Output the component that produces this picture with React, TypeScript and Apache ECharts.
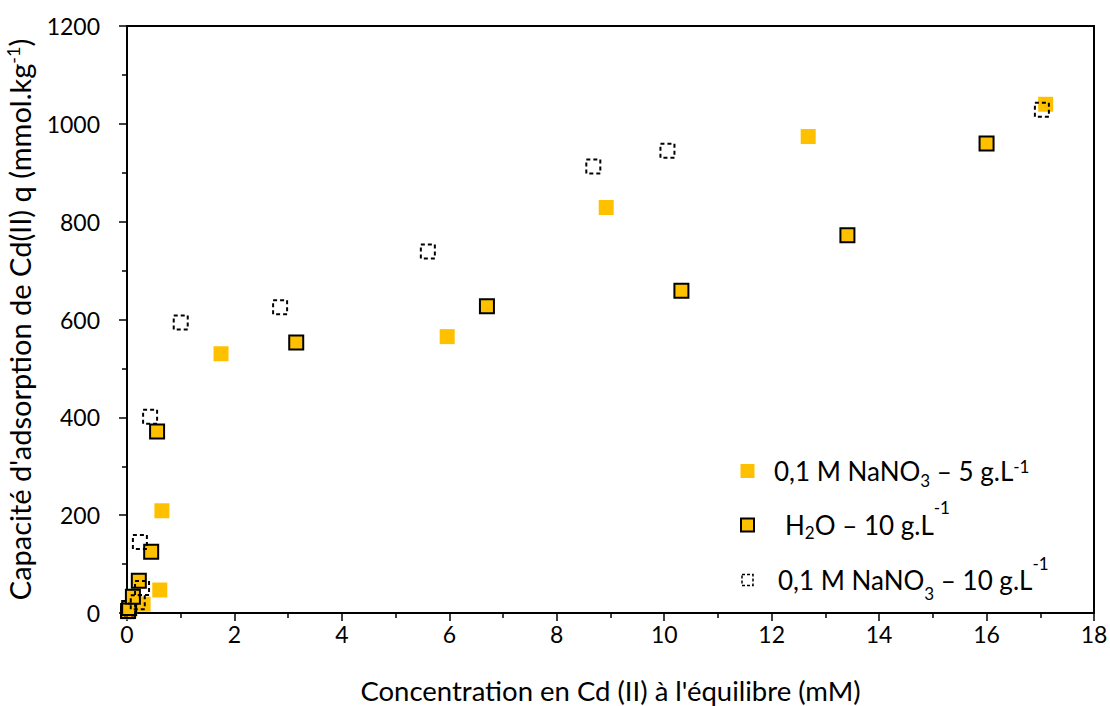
import React, { useEffect, useRef } from "react";
import * as echarts from "echarts";

const seriesNames = [
  "0,1 M NaNO3 – 5 g.L-1",
  "H2O – 10 g.L-1",
  "0,1 M NaNO3 – 10 g.L-1",
];

const nitrate5X = [0.01, 0.05, 0.3, 0.61, 0.65, 1.75, 5.96, 8.92, 12.68, 17.1];
const nitrate5Y = [2, 8, 18, 47, 209, 530, 565, 829, 974, 1040];

const waterX = [0.02, 0.04, 0.11, 0.22, 0.45, 0.56, 3.15, 6.7, 10.32, 13.41, 16.0];
const waterY = [4, 10, 33, 66, 125, 371, 553, 627, 659, 772, 960];

const nitrate10X = [0.02, 0.2, 0.28, 0.24, 0.43, 1.0, 2.85, 5.6, 8.68, 10.06, 17.03];
const nitrate10Y = [5, 22, 51, 145, 401, 594, 625, 739, 913, 945, 1029];

const xTicks = { min: 0, max: 18, interval: 2 };
const yTicks = { min: 0, max: 1200, interval: 200 };

const zip = (xs: number[], ys: number[]) => xs.map((x, i) => [x, ys[i]]);

const FONT = "Lato";
const YELLOW = "#FFC000";

const small = (raise: number) => ({
  fontSize: 17,
  fill: "#000",
  color: "#000",
  fontFamily: FONT,
  verticalAlign: "middle",
  lineHeight: 10,
  padding: raise >= 0 ? [0, 0, raise * 2, 0] : [-raise * 2, 0, 0, 0],
});

const mainText = {
  fontSize: 26,
  fill: "#000",
  color: "#000",
  fontFamily: FONT,
  lineHeight: 30,
  verticalAlign: "middle",
};

const legendRich = {
  t: mainText,
  sub1: small(-9),
  sup1: small(5),
  sub2: small(-7),
  sup2: small(17.5),
  sub3: small(-13),
  sup3: small(17),
};

const legendTexts = [
  "{t|0,1 M NaNO}{sub1|3}{t| – 5 g.L}{sup1|-1}",
  "{t|H}{sub2|2}{t|O – 10 g.L}{sup2|-1}",
  "{t|0,1 M NaNO}{sub3|3}{t| – 10 g.L}{sup3|-1}",
];

export default function App() {
  const ref = useRef<HTMLDivElement>(null);
  useEffect(() => {
    if (!ref.current) return;
    const chart = echarts.init(ref.current, null, { renderer: "svg" });
    const rowY = [471, 525, 580];
    const textX = [774, 785, 778];
    const iconStyles = [
      { fill: YELLOW },
      { fill: YELLOW, stroke: "#000", lineWidth: 2 },
      { fill: "none", stroke: "#000", lineWidth: 1.5, lineDash: [3, 2] },
    ];
    const iconSizes = [14, 13, 11];
    const legendGraphics = rowY.flatMap((cy, i) => [
      {
        type: "rect",
        shape: {
          x: 747.5 - iconSizes[i] / 2,
          y: cy - iconSizes[i] / 2,
          width: iconSizes[i],
          height: iconSizes[i],
        },
        style: iconStyles[i],
        silent: true,
      },
      {
        type: "text",
        x: textX[i],
        y: cy,
        style: {
          text: legendTexts[i],
          rich: legendRich,
          fontSize: 26,
          fontFamily: FONT,
          fill: "#000",
          align: "left",
          verticalAlign: "middle",
        },
        silent: true,
      },
    ]);
    chart.setOption({
      animation: false,
      backgroundColor: "#ffffff",
      textStyle: { fontFamily: FONT },
      grid: {
        left: 127,
        right: 16,
        top: 26,
        bottom: 93,
        show: true,
        borderColor: "#000",
        borderWidth: 2,
        containLabel: false,
        outerBoundsMode: "none",
      },
      graphic: legendGraphics,
      xAxis: {
        type: "value",
        min: xTicks.min,
        max: xTicks.max,
        interval: xTicks.interval,
        name: "Concentration en Cd (II) à l'équilibre (mM)",
        nameLocation: "middle",
        nameGap: 63,
        nameTextStyle: { fontSize: 27.5, color: "#000", fontFamily: FONT },
        axisLine: { show: true, lineStyle: { color: "#000", width: 2 } },
        axisTick: { show: true, length: 8, lineStyle: { color: "#000", width: 1.5 } },
        minorTick: { show: true, splitNumber: 2, length: 5, lineStyle: { color: "#000", width: 1.5 } },
        axisLabel: {
          fontSize: 23,
          color: "#000",
          margin: 9,
          fontFamily: FONT,
          formatter: (v: number) => String(v),
        },
        splitLine: { show: false },
      },
      yAxis: {
        type: "value",
        min: yTicks.min,
        max: yTicks.max,
        interval: yTicks.interval,
        name: "{m|Capacité d'adsorption de Cd(II) q (mmol.kg}{s|-1}{m|)}",
        nameLocation: "middle",
        nameGap: 83,
        nameTextStyle: {
          fontSize: 29,
          color: "#000",
          fontFamily: FONT,
          rich: {
            m: { fontSize: 29, color: "#000", fontFamily: FONT, lineHeight: 34, verticalAlign: "middle" },
            s: { ...small(7), fontSize: 18 },
          },
        },
        axisLine: { show: true, lineStyle: { color: "#000", width: 2 } },
        axisTick: { show: true, length: 8, lineStyle: { color: "#000", width: 1.5 } },
        minorTick: { show: true, splitNumber: 2, length: 5, lineStyle: { color: "#000", width: 1.5 } },
        axisLabel: {
          fontSize: 23,
          color: "#000",
          margin: 27,
          fontFamily: FONT,
          formatter: (v: number) => String(v),
        },
        splitLine: { show: false },
      },
      series: [
        {
          name: seriesNames[0],
          type: "scatter",
          symbol: "rect",
          symbolSize: 15,
          itemStyle: { color: YELLOW, opacity: 1 },
          data: zip(nitrate5X, nitrate5Y),
        },
        {
          name: seriesNames[1],
          type: "scatter",
          symbol: "rect",
          symbolSize: 14,
          itemStyle: { color: YELLOW, borderColor: "#000", borderWidth: 2, opacity: 1 },
          data: zip(waterX, waterY),
        },
        {
          name: seriesNames[2],
          type: "scatter",
          symbol: "rect",
          symbolSize: 14,
          itemStyle: {
            color: "rgba(255,255,255,0)",
            borderColor: "#000",
            borderWidth: 2,
            borderType: [4, 3],
            opacity: 1,
          },
          data: zip(nitrate10X, nitrate10Y),
        },
      ],
    });
    return () => chart.dispose();
  }, []);
  return (
    <div
      ref={ref}
      style={{ position: "fixed", left: 0, top: 0, width: 1110, height: 706, background: "#fff" }}
    />
  );
}
